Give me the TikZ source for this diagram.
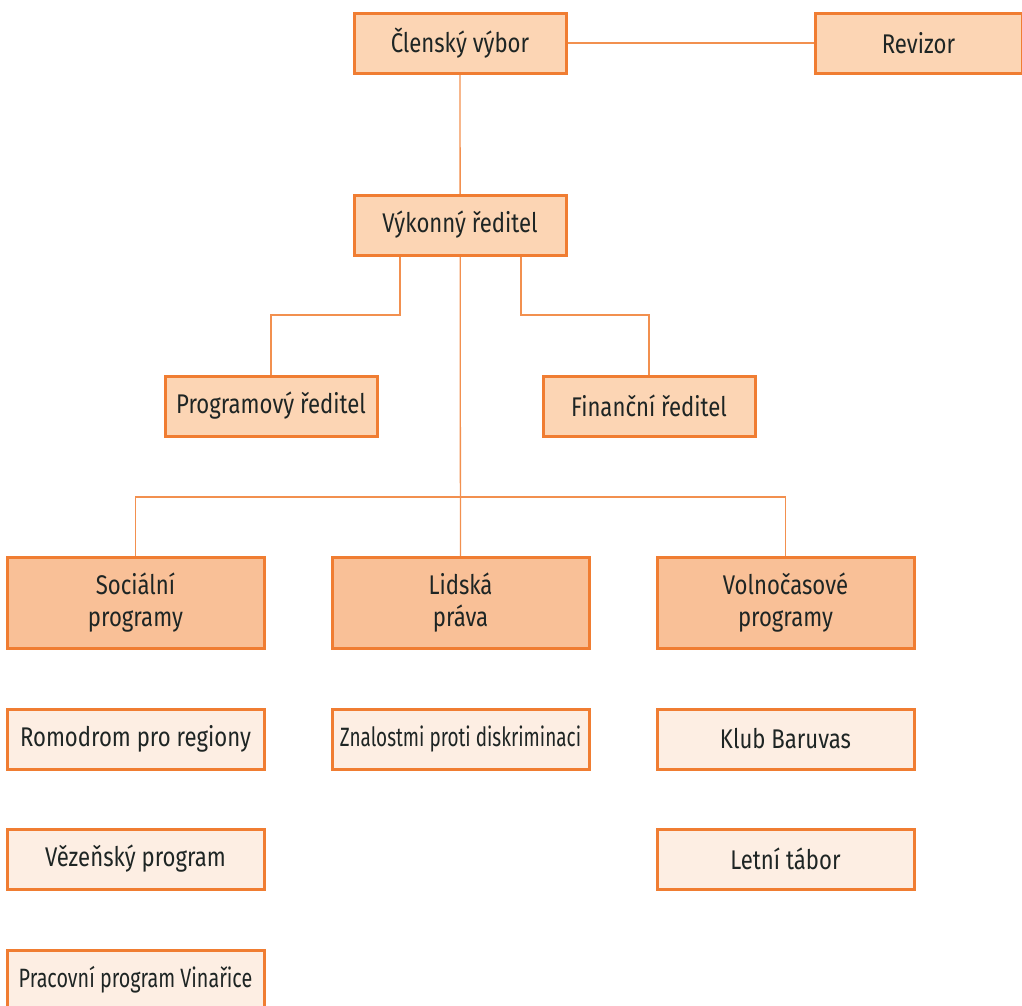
\documentclass[tikz,border=0pt]{standalone}
\usepackage{fontspec}
\usetikzlibrary{backgrounds}
\setmainfont[FakeStretch=0.82]{Fira Sans}
\newfontfamily\narrowA[FakeStretch=0.715]{Fira Sans}
\newfontfamily\narrowB[FakeStretch=0.745]{Fira Sans}
\definecolor{edge}{HTML}{F07D32}
\definecolor{conn}{HTML}{F2904F}
\definecolor{fillA}{HTML}{FCD5B4}
\definecolor{fillB}{HTML}{F9C097}
\definecolor{fillC}{HTML}{FDEEE3}
\definecolor{txt}{HTML}{1E2524}
\begin{document}
\begin{tikzpicture}[x=1pt,y=-1pt,
  box/.style={draw=edge,line width=3pt,text=txt,font=\fontsize{27}{32}\selectfont,inner sep=0pt,align=center},
  topbox/.style={box,fill=fillA,minimum width=212pt,minimum height=60pt},
  midbox/.style={box,fill=fillB,minimum width=257pt,minimum height=91pt},
  lowbox/.style={box,fill=fillC,minimum width=257pt,minimum height=60pt},
  link/.style={draw=conn,line width=1.3pt}]
\useasboundingbox (0,0) rectangle (1022,1005);
\node[topbox] (clen) at (460,43) {Členský výbor};
\node[topbox,minimum width=207pt] (rev) at (918.5,43) {Revizor};
\node[topbox] (vyk) at (460,225) {Výkonný ředitel};
\node[topbox] (prog) at (271,406) {Programový ředitel};
\node[topbox] (fin) at (649,406) {Finanční ředitel};
\node[midbox] (soc) at (135.5,602.5) {Sociální\\programy};
\node[midbox] (lid) at (460.5,602.5) {Lidská\\práva};
\node[midbox] (vol) at (785.5,602.5) {Volnočasové\\programy};
\node[lowbox] (rom) at (135.5,739) {Romodrom pro regiony};
\node[lowbox,font=\narrowA\fontsize{26.5}{30}\selectfont] (zna) at (460.5,739) {Znalostmi proti diskriminaci};
\node[lowbox] (klub) at (785.5,739) {Klub Baruvas};
\node[lowbox] (vez) at (135.5,859) {Vězeňský program};
\node[lowbox] (let) at (785.5,859) {Letní tábor};
\node[lowbox,font=\narrowB\fontsize{26.5}{30}\selectfont] (prac) at (135.5,980) {Pracovní program Vinařice};
\coordinate (vl) at (400,255);
\coordinate (vr) at (521,255);
\coordinate (bus) at (460,497);
\begin{scope}[on background layer]
\draw[link] (clen.center) -- (rev.center);
\draw[link] (clen.center) -- (lid.center);
\draw[link] (vl) |- (335,315) -| (prog.center);
\draw[link] (vr) |- (585,315) -| (fin.center);
\draw[link] (soc.center) |- (bus) -| (vol.center);
\end{scope}
\end{tikzpicture}
\end{document}
